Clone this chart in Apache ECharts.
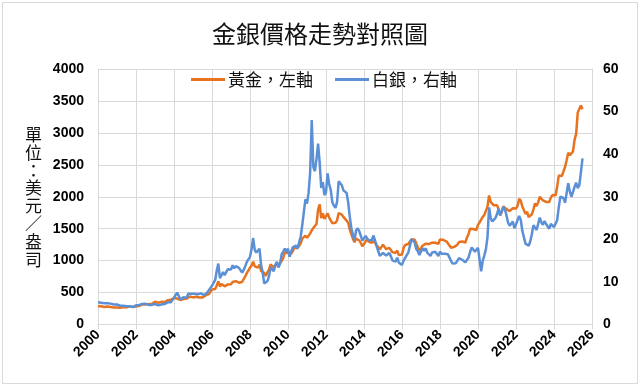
<!DOCTYPE html>
<html>
<head>
<meta charset="utf-8">
<script src="https://cdn.jsdelivr.net/npm/echarts@6/dist/echarts.min.js"></script>
<style>html,body{margin:0;padding:0;background:#fff}#c{width:640px;height:386px}</style>
</head>
<body>
<div id="c"></div>
<script>
const title = '金銀價格走勢對照圖';
const seriesNames = ['黃金，左軸', '白銀，右軸'];
const yAxisName = '單位：美元／盎司';
const startYear = 2000;
const xTicks = [2000, 2002, 2004, 2006, 2008, 2010, 2012, 2014, 2016, 2018, 2020, 2022, 2024, 2026];
const leftTicks = [0, 500, 1000, 1500, 2000, 2500, 3000, 3500, 4000];
const rightTicks = [0, 10, 20, 30, 40, 50, 60];

// Monthly gold price (USD/oz), Jan 2000 .. Jul 2025
const gold = [
 284,300,286,280,275,286,282,274,273,270,266,272,
 266,262,263,261,272,270,268,273,283,283,276,276,
 282,296,294,302,314,322,314,310,319,317,319,333,
 356,359,340,328,355,356,351,359,379,379,389,407,
 414,405,406,404,384,392,398,400,405,420,439,442,
 424,423,434,429,422,430,424,438,456,470,476,510,
 549,555,557,610,676,596,633,632,598,585,627,629,
 631,665,655,679,667,655,665,665,712,754,806,803,
 889,922,985,909,888,889,939,839,829,806,760,816,
 858,943,924,890,928,946,934,949,996,1043,1127,1134,
 1118,1095,1113,1148,1205,1233,1193,1215,1271,1343,1370,1391,
 1356,1372,1424,1474,1510,1529,1573,1800,1880,1666,1739,1652,
 1656,1742,1673,1650,1585,1596,1594,1630,1744,1760,1721,1684,
 1671,1627,1593,1487,1414,1343,1286,1347,1349,1316,1276,1222,
 1244,1300,1336,1299,1287,1279,1311,1296,1239,1222,1176,1201,
 1251,1227,1179,1198,1199,1181,1131,1117,1125,1157,1086,1068,
 1097,1200,1245,1242,1260,1276,1337,1341,1326,1267,1238,1152,
 1192,1234,1231,1266,1246,1260,1237,1283,1314,1280,1283,1265,
 1331,1331,1325,1335,1303,1282,1238,1202,1198,1215,1221,1250,
 1291,1320,1300,1286,1284,1359,1413,1500,1510,1495,1471,1480,
 1560,1597,1592,1683,1716,1732,1847,2020,1921,1900,1866,1858,
 1867,1808,1718,1760,1850,1834,1807,1785,1775,1777,1821,1790,
 1817,1856,1970,1937,1848,1837,1732,1764,1681,1664,1726,1798,
 1898,1854,1912,1999,1992,1942,1951,1918,1916,1916,1986,2027,
 2034,2023,2158,2331,2351,2326,2398,2470,2571,2690,2651,2648,
 2709,2895,2983,3320,3300,3430,3370
];

// Monthly silver price (USD/oz), Jan 2000 .. Jul 2025
const silver = [
 5.2,5.3,5.1,5.0,5.0,5.0,5.0,4.9,4.9,4.9,4.7,4.6,
 4.7,4.5,4.4,4.4,4.4,4.4,4.3,4.2,4.3,4.4,4.1,4.4,
 4.5,4.4,4.6,4.6,4.8,4.9,4.9,4.6,4.6,4.5,4.6,4.7,
 4.8,4.6,4.5,4.5,4.7,4.6,4.8,5.0,5.2,4.9,5.2,5.5,
 6.3,6.5,7.5,7.9,5.9,5.9,6.4,6.7,6.3,7.2,7.5,7.2,
 6.8,7.2,7.3,7.1,7.2,7.3,7.0,6.9,7.0,7.5,7.8,8.6,
 9.1,9.8,10.4,12.6,14.3,10.9,11.1,12.3,11.6,11.8,13.0,13.3,
 12.9,13.9,13.2,13.7,13.3,13.3,12.9,12.2,12.8,13.7,14.7,14.3,
 15.9,17.8,20.3,17.5,16.9,17.1,17.8,14.0,12.2,9.6,9.5,10.2,
 11.3,13.4,13.1,12.5,14.0,14.7,13.4,14.3,16.5,17.1,17.8,17.1,
 17.8,15.9,17.1,18.1,18.5,18.5,17.9,18.3,20.6,23.3,26.4,29.4,
 28.4,30.9,35.8,48.0,37.0,36.0,38.9,42.5,38.0,32.1,33.4,30.4,
 31.0,35.5,33.0,31.6,28.7,27.9,27.4,28.8,33.6,33.8,32.7,31.5,
 31.3,30.9,28.7,25.4,22.6,21.1,19.7,22.1,22.6,21.9,20.8,19.7,
 19.9,20.8,20.7,19.7,19.3,19.9,20.9,19.7,18.4,17.2,16.1,16.2,
 16.8,16.9,16.2,16.3,16.8,16.0,15.0,14.9,14.8,15.7,14.5,14.1,
 14.0,15.0,15.4,16.3,16.9,17.1,20.0,19.6,19.3,17.7,17.2,16.3,
 16.7,17.9,17.3,17.9,16.8,16.9,16.1,16.9,17.3,17.1,17.0,16.1,
 17.1,16.6,16.5,16.6,16.5,16.5,15.7,14.9,14.3,14.6,14.4,14.7,
 15.6,15.9,15.2,15.0,14.6,14.9,15.7,17.0,18.1,17.6,17.1,17.1,
 18.0,17.8,12.5,15.0,16.2,17.7,20.5,27.5,25.0,24.2,23.9,25.0,
 25.9,27.2,25.6,25.4,27.6,27.1,25.6,23.9,23.2,23.4,24.2,22.6,
 23.5,23.5,25.5,24.6,22.0,21.6,19.0,19.4,18.5,19.5,21.2,23.3,
 23.6,22.2,22.2,25.1,24.0,23.4,24.3,23.6,23.2,22.5,23.6,24.0,
 22.9,22.6,24.5,27.5,30.0,29.7,29.7,28.6,30.9,33.2,31.2,30.0,
 30.4,32.3,33.3,32.0,32.7,35.8,39.0
];

const toPairs = arr => arr.map((v, i) => [startYear + i / 12, v]);
const gridColor = '#d9d9d9';
const labelStyle = { color: '#000', fontWeight: 'bold', fontSize: 14, fontFamily: 'Liberation Sans, Arial, sans-serif' };

const chart = echarts.init(document.getElementById('c'), null, { renderer: 'canvas' });
chart.setOption({
  animation: false,
  backgroundColor: '#fff',
  title: {
    text: title, left: 'center', top: 17,
    textStyle: { fontSize: 24, fontWeight: 'normal', color: '#111', fontFamily: 'Noto Sans CJK TC, sans-serif' }
  },
  legend: {
    data: seriesNames, left: 186, top: 66,
    itemWidth: 34, itemHeight: 3, itemGap: 22,
    icon: 'rect',
    textStyle: { fontSize: 17, color: '#111', fontFamily: 'Noto Sans CJK TC, sans-serif', padding: [0, 0, 0, -2] }
  },
  grid: { left: 98, right: 48, top: 69, bottom: 61.5 },
  xAxis: {
    type: 'value', min: xTicks[0], max: xTicks[xTicks.length - 1], interval: 2,
    axisLine: { show: true, lineStyle: { color: gridColor } },
    axisTick: { show: true, length: 5, lineStyle: { color: gridColor } },
    splitLine: { show: true, lineStyle: { color: gridColor, width: 1 } },
    axisLabel: Object.assign({ rotate: 45, margin: 8, formatter: v => String(v) }, labelStyle)
  },
  yAxis: [
    {
      type: 'value', min: leftTicks[0], max: leftTicks[leftTicks.length - 1], interval: 500,
      name: yAxisName.split('').join('\n'),
      nameLocation: 'middle', nameRotate: 0, nameGap: 56,
      nameTextStyle: { fontSize: 17, lineHeight: 17.8, color: '#111', fontFamily: 'Noto Sans CJK TC, sans-serif' },
      axisLine: { show: true, lineStyle: { color: gridColor } },
      axisTick: { show: false },
      splitLine: { show: true, lineStyle: { color: gridColor, width: 1 } },
      axisLabel: Object.assign({ margin: 14, formatter: v => String(v) }, labelStyle)
    },
    {
      type: 'value', min: rightTicks[0], max: rightTicks[rightTicks.length - 1], interval: 10,
      position: 'right',
      axisLine: { show: true, lineStyle: { color: gridColor } },
      axisTick: { show: false },
      splitLine: { show: false },
      axisLabel: Object.assign({ margin: 11, formatter: v => String(v) }, labelStyle)
    }
  ],
  series: [
    {
      name: seriesNames[0], type: 'line', yAxisIndex: 0, data: toPairs(gold),
      showSymbol: false, symbol: 'none',
      lineStyle: { color: '#E8731F', width: 2.5 }, itemStyle: { color: '#E8731F' }
    },
    {
      name: seriesNames[1], type: 'line', yAxisIndex: 1, data: toPairs(silver),
      showSymbol: false, symbol: 'none',
      lineStyle: { color: '#5B8FD6', width: 2.5 }, itemStyle: { color: '#5B8FD6' }
    }
  ],
  graphic: [{
    type: 'rect', shape: { x: 2.5, y: 2.5, width: 635, height: 381 },
    style: { fill: 'none', stroke: '#d9d9d9', lineWidth: 1 }, silent: true, z: -1
  }]
});
</script>
</body>
</html>
